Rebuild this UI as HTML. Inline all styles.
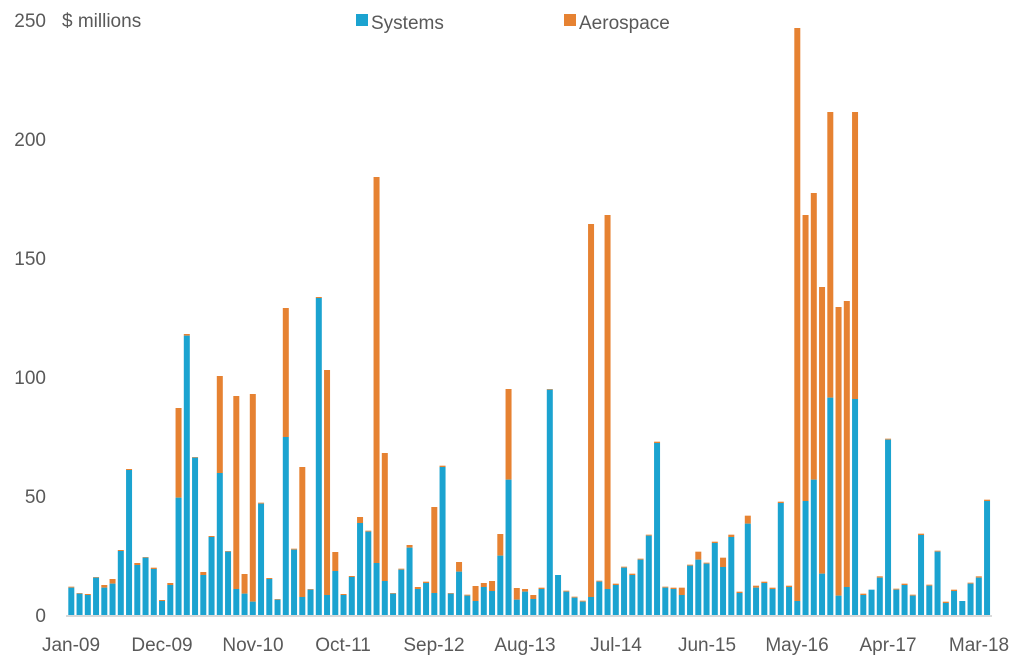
<!DOCTYPE html>
<html><head><meta charset="utf-8"><style>
body{margin:0;background:#fff;}
svg text{font-family:"Liberation Sans",sans-serif;fill:#595959;}
</style></head><body>
<svg id="s" width="1016" height="663" viewBox="0 0 1016 663" xmlns="http://www.w3.org/2000/svg">
<g font-size="19">
<text x="46" y="27" text-anchor="end">250</text>
<text x="62" y="27">$ millions</text>
<text x="46" y="146" text-anchor="end">200</text>
<text x="46" y="265" text-anchor="end">150</text>
<text x="46" y="384" text-anchor="end">100</text>
<text x="46" y="503" text-anchor="end">50</text>
<text x="46" y="622" text-anchor="end">0</text>
<rect x="356" y="14" width="12" height="12" fill="#1ba3d0"/>
<text x="371" y="29">Systems</text>
<rect x="564" y="14" width="12" height="12" fill="#e68232"/>
<text x="579" y="29">Aerospace</text>
<text x="71" y="651" text-anchor="middle">Jan-09</text>
<text x="162" y="651" text-anchor="middle">Dec-09</text>
<text x="253" y="651" text-anchor="middle">Nov-10</text>
<text x="343" y="651" text-anchor="middle">Oct-11</text>
<text x="434" y="651" text-anchor="middle">Sep-12</text>
<text x="525" y="651" text-anchor="middle">Aug-13</text>
<text x="616" y="651" text-anchor="middle">Jul-14</text>
<text x="707" y="651" text-anchor="middle">Jun-15</text>
<text x="797" y="651" text-anchor="middle">May-16</text>
<text x="888" y="651" text-anchor="middle">Apr-17</text>
<text x="979" y="651" text-anchor="middle">Mar-18</text>
</g>
<g id="bars"></g>
<rect x="66" y="615" width="926" height="2" fill="#d9d9d9"/>
</svg>
<script>
var d=[[863,860],[881,879],[885,882],[833,831],[863,855],[851,837],[753,750],[510,507],[795,789],[773,771],[807,803],[903,900],[855,849],[593,324],[107,102],[473,471],[825,816],[711,708],[519,228],[755,753],[867,288],[881,822],[905,282],[611,608],[837,834],[899,897],[411,24],[749,746],
[891,501],[869,867],[-6,-9],[885,210],[813,756],[885,882],[831,828],[669,651],[695,692],[789,-369],[843,459],[881,879],[809,806],[743,735],[867,861],[849,845],[879,621],[501,497],[881,879],[815,786],[887,884],[903,858],[861,849],[873,843],[767,702],[539,267],[899,864],[875,867],
[897,885],[867,863],[269,267],[825,825],[875,872],[893,890],[905,902],[891,-228],[845,842],[867,-255],[855,851],[803,800],[825,821],[779,776],[707,704],[429,425],[863,860],[867,863],[885,863],[797,794],[779,755],[791,788],[729,725],[801,773],[711,704],[879,875],[671,647],[863,857],
[849,845],[867,863],[609,605],[861,857],[903,-816],[603,-255],[539,-321],[821,-39],[293,-564],[887,21],[861,3],[297,-564],[885,881],[869,869],[833,829],[419,416],[869,866],[855,851],[887,884],[705,701],[857,854],[755,752],[909,905],[873,869],[903,903],[851,848],[833,829],[603,599]];
var g=document.getElementById('bars'),h='';
d.forEach(function(b,i){var cx=71.3+i*8.25,x=(cx-3).toFixed(2);var yb=300+b[0]/3,yo=300+b[1]/3;
if(yo<yb)h+='<rect x="'+x+'" y="'+yo.toFixed(2)+'" width="6" height="'+(yb-yo).toFixed(2)+'" fill="#e68232"/>';
h+='<rect x="'+x+'" y="'+yb.toFixed(2)+'" width="6" height="'+(615-yb).toFixed(2)+'" fill="#1ba3d0"/>';});
g.innerHTML=h;
</script>
</body></html>
